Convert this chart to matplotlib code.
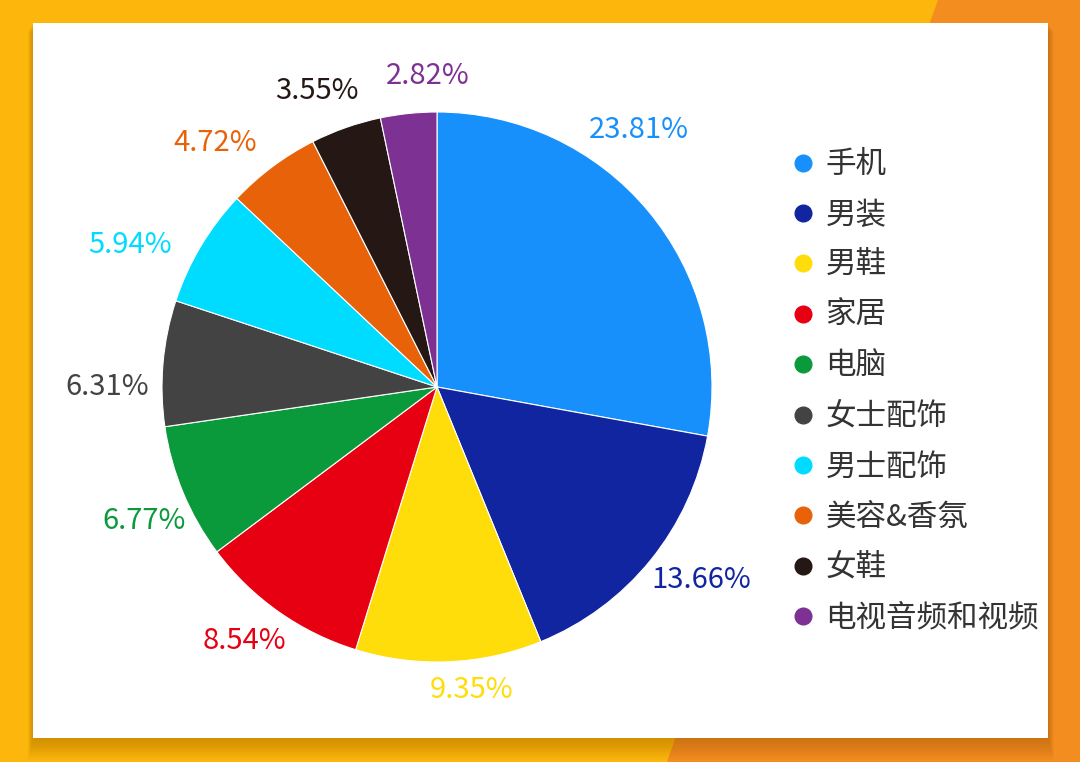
import numpy as np
import matplotlib.pyplot as plt
from matplotlib.patches import Polygon, Rectangle
from matplotlib.lines import Line2D

plt.rcParams['font.family'] = ['Noto Sans CJK SC', 'DejaVu Sans']

categories = ['手机', '男装', '男鞋', '家居', '电脑', '女士配饰',
              '男士配饰', '美容&香氛', '女鞋', '电视音频和视频']
shares = [23.81, 13.66, 9.35, 8.54, 6.77, 6.31, 5.94, 4.72, 3.55, 2.82]
colors = ['#1890fb', '#1125a0', '#ffdd0b', '#e60012', '#0b9a3b',
          '#434343', '#00dcff', '#e8620a', '#241714', '#7d3193']

# label layout tweaks: extra rotation (deg) and distance from centre (radii)
label_rot = [12, 3, 4, -2, 2, 5, 6, 5.5, 2.7, -4.3]
label_dist = [1.19, 1.19, 1.11, 1.16, 1.17, 1.20, 1.23, 1.20, 1.16, 1.13]

W, H = 1080, 762
fig = plt.figure(figsize=(W / 100, H / 100), dpi=100)

# background: yellow / orange split, white card with a soft shadow
bg = fig.add_axes([0, 0, 1, 1])
bg.set_xlim(0, W)
bg.set_ylim(H, 0)
bg.axis('off')
bg.add_patch(Rectangle((0, 0), W, H, color='#fdb70c'))
bg.add_patch(Polygon([(938, 0), (W, 0), (W, H), (667, H)], color='#f48d20'))
for k in range(12):
    bg.add_patch(Rectangle((33 - k * 0.5, 23 + k * 0.8), 1015 + k, 715 + k * 1.2,
                           color='#8a4a00', alpha=0.035, lw=0))
bg.add_patch(Rectangle((33, 23), 1015, 715, color='white', lw=0))

# pie
cx, cy, r = 437, 387, 275
ax = fig.add_axes([(cx - r) / W, (H - cy - r) / H, 2 * r / W, 2 * r / H])
wedges, _ = ax.pie(shares, colors=colors, startangle=90, counterclock=False,
                   wedgeprops=dict(edgecolor='white', linewidth=0.8))
ax.set_xlim(-1, 1)
ax.set_ylim(-1, 1)
ax.set_aspect('equal')

for w, v, c, dr, d in zip(wedges, shares, colors, label_rot, label_dist):
    ang = np.deg2rad((w.theta1 + w.theta2) / 2 + dr)
    ax.text(d * np.cos(ang), d * np.sin(ang), '%.2f%%' % v,
            color=c, fontsize=21, ha='center', va='center')

handles = [Line2D([], [], marker='o', linestyle='', markersize=12,
                  markerfacecolor=c, markeredgecolor=c) for c in colors]
leg = fig.legend(handles, categories, loc='upper left',
                 bbox_to_anchor=(772 / W, 1 - 137 / H), frameon=False,
                 fontsize=22, labelspacing=0.635, handletextpad=0.15,
                 handlelength=1.2, borderaxespad=0)
for t in leg.get_texts():
    t.set_color('#333333')

fig.savefig('out.png', dpi=100)
